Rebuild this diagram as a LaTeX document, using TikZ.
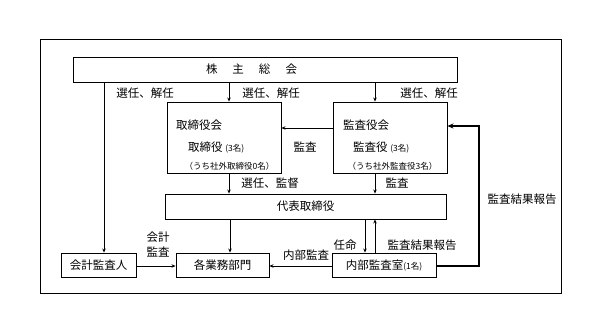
\documentclass[tikz,border=0pt]{standalone}
\usepackage{fontspec}
\setmainfont{Noto Sans CJK JP}
\usetikzlibrary{arrows.meta,calc}
\begin{document}
\begin{tikzpicture}[x=1pt,y=-1pt,
  box/.style={draw,line width=0.9pt,inner sep=0pt,minimum height=#1},
  box/.default=25pt,
  lbl/.style={inner sep=0pt,font=\fontsize{11.5}{12}\selectfont},
  sml/.style={inner sep=0pt,font=\fontsize{8.5}{9}\selectfont},
  arr/.style={line width=0.9pt,-{Stealth[length=4pt,width=3.5pt]}},
  thk/.style={line width=1.6pt,-{Stealth[length=6pt,width=5pt]}}]
\useasboundingbox (0,0) rectangle (600,333);
\node[draw,line width=0.9pt,minimum width=521pt,minimum height=254pt,inner sep=0pt] (frame) at (300.5,166) {};
% boxes
\node[box,minimum width=384pt] (sh) at (265,69.5) {};
\node[lbl] (shtxt) at (251.5,69.5) {株\hspace{15pt}主\hspace{15pt}総\hspace{15pt}会};
\node[box=71pt,minimum width=114pt] (tk) at (224,137.5) {};
\node[box=71pt,minimum width=114pt] (kk) at (390,137.5) {};
\node[box,minimum width=281pt,lbl] (dh) at (305.5,206.5) {代表取締役};
\node[box=24pt,minimum width=93pt,lbl] (kg) at (222.5,265) {各業務部門};
\node[box=24pt,minimum width=75pt,lbl] (ka) at (98.5,265) {会計監査人};
\node[box=24pt,minimum width=104pt,lbl] (nb) at (384,265) {内部監査室{\fontsize{8.5}{9}\selectfont(1名)}};
% box texts
\node[lbl,anchor=west] (tk1) at (176,125) {取締役会};
\node[lbl,anchor=west] (tk2) at (188,147) {取締役 {\fontsize{8.5}{9}\selectfont(3名)}};
\node[sml] (tk3) at (229.5,166) {（うち社外取締役0名）};
\node[lbl,anchor=west] (kk1) at (343,125) {監査役会};
\node[lbl,anchor=west] (kk2) at (353,147) {監査役 {\fontsize{8.5}{9}\selectfont(3名)}};
\node[sml] (kk3) at (392.5,166) {（うち社外監査役3名）};
% connectors
\draw[arr] ([xshift=5.5pt]ka.north |- sh.south) -- ([xshift=5.5pt]ka.north);
\draw[arr] ([xshift=5pt]tk.north |- sh.south) -- ([xshift=5pt]tk.north);
\draw[arr] ([xshift=-15pt]kk.north |- sh.south) -- ([xshift=-15pt]kk.north);
\draw[arr] ([yshift=9.5pt]kk.west) -- ([yshift=9.5pt]tk.east);
\draw[arr] ([xshift=5pt]tk.south) -- ([xshift=5pt]tk.south |- dh.north);
\draw[arr] ([xshift=-15pt]kk.south) -- ([xshift=-15pt]kk.south |- dh.north);
\draw[arr] ([xshift=7.5pt]kg.north |- dh.south) -- ([xshift=7.5pt]kg.north);
\draw[arr] ([yshift=-1pt]ka.east) -- ([yshift=-1pt]kg.west);
\draw[arr] ([yshift=-1pt]nb.west) -- ([yshift=-1pt]kg.east);
\draw[arr] ([xshift=-19pt]nb.north |- dh.south) -- ([xshift=-19pt]nb.north);
\draw[arr] ([xshift=-9pt]nb.north) -- ([xshift=-9pt]nb.north |- dh.south);
\coordinate (rc) at (479,0);
\draw[thk] ([yshift=-1pt]nb.east) -- ([yshift=-1pt]nb.east -| rc) -- ([yshift=11.5pt]kk.east -| rc) -- ([yshift=11.5pt]kk.east);
% labels
\node[lbl] (l1) at (145,93) {選任、解任};
\node[lbl] (l2) at (271,93) {選任、解任};
\node[lbl] (l3) at (429,93) {選任、解任};
\node[lbl] (l4) at (305,147) {監査};
\node[lbl] (l5) at (270,183) {選任、監督};
\node[lbl] (l6) at (397,183) {監査};
\node[lbl] (l7) at (522,199) {監査結果報告};
\node[lbl] (l8) at (158,237) {会計};
\node[lbl] (l9) at (158,252) {監査};
\node[lbl] (l10) at (306,255) {内部監査};
\node[lbl] (l11) at (345,245) {任命};
\node[lbl] (l12) at (422,245) {監査結果報告};
\end{tikzpicture}
\end{document}
